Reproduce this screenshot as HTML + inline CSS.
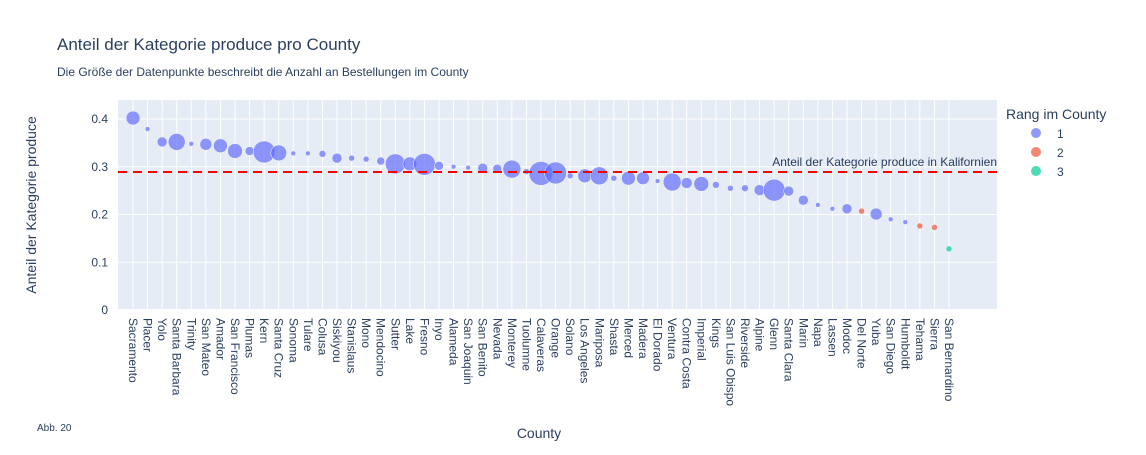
<!DOCTYPE html>
<html><head><meta charset="utf-8"><style>
body{margin:0;background:#fff;font-family:"Liberation Sans",Arial,sans-serif;}
svg text{font-family:"Liberation Sans",Arial,sans-serif;}
</style></head><body>
<svg id="c" width="1146" height="450">
<rect x="0" y="0" width="1146" height="450" fill="#fff"/>
<text x="57" y="50" font-size="17" fill="#2a3f5f">Anteil der Kategorie produce pro County</text>
<text x="57" y="76" font-size="12" fill="#2a3f5f">Die Größe der Datenpunkte beschreibt die Anzahl an Bestellungen im County</text>
<rect x="118" y="100" width="879" height="210" fill="#e5ecf6"/>
<g id="grid"></g>
<g id="marks"></g>
<g id="xt"></g>
<g id="yt"></g>
<text transform="translate(36,205) rotate(-90)" text-anchor="middle" font-size="14" fill="#2a3f5f">Anteil der Kategorie produce</text>
<text x="539" y="438" text-anchor="middle" font-size="14" fill="#2a3f5f">County</text>
<text x="37" y="431" font-size="10" fill="#2a3f5f">Abb. 20</text>
<g>
<text x="1006" y="119" font-size="14" fill="#2a3f5f">Rang im County</text>
<g><circle cx="1036" cy="133" r="5" fill="#636efa" fill-opacity="0.7"/><text x="1057" y="138" font-size="12" fill="#2a3f5f">1</text></g>
<g><circle cx="1036" cy="152" r="5" fill="#EF553B" fill-opacity="0.7"/><text x="1057" y="157" font-size="12" fill="#2a3f5f">2</text></g>
<g><circle cx="1036" cy="171" r="5" fill="#00cc96" fill-opacity="0.7"/><text x="1057" y="176" font-size="12" fill="#2a3f5f">3</text></g>
</g>
</svg>
<script>
const counties=["Sacramento","Placer","Yolo","Santa Barbara","Trinity","San Mateo","Amador","San Francisco","Plumas","Kern","Santa Cruz","Sonoma","Tulare","Colusa","Siskiyou","Stanislaus","Mono","Mendocino","Sutter","Lake","Fresno","Inyo","Alameda","San Joaquin","San Benito","Nevada","Monterey","Tuolumne","Calaveras","Orange","Solano","Los Angeles","Mariposa","Shasta","Merced","Madera","El Dorado","Ventura","Contra Costa","Imperial","Kings","San Luis Obispo","Riverside","Alpine","Glenn","Santa Clara","Marin","Napa","Lassen","Modoc","Del Norte","Yuba","San Diego","Humboldt","Tehama","Sierra","San Bernardino"];
const shares=[0.402,0.379,0.352,0.352,0.348,0.347,0.344,0.333,0.333,0.331,0.329,0.328,0.328,0.327,0.318,0.318,0.316,0.312,0.306,0.306,0.305,0.302,0.300,0.298,0.297,0.296,0.295,0.290,0.286,0.287,0.281,0.281,0.281,0.276,0.276,0.276,0.270,0.268,0.266,0.264,0.262,0.255,0.255,0.251,0.251,0.249,0.230,0.220,0.212,0.212,0.207,0.201,0.190,0.184,0.176,0.173,0.128];
const orders=[49,6,25,72,6,36,49,56,20,121,64,6,6,12,25,9,9,16,100,49,121,20,6,6,25,20,81,9,144,121,9,49,81,9,49,42,6,81,30,56,12,9,12,30,121,25,25,6,6,25,9,36,6,6,9,9,9];
const ranks=[1,1,1,1,1,1,1,1,1,1,1,1,1,1,1,1,1,1,1,1,1,1,1,1,1,1,1,1,1,1,1,1,1,1,1,1,1,1,1,1,1,1,1,1,1,1,1,1,1,1,2,1,1,1,2,2,3];
const yTicks=[0,0.1,0.2,0.3,0.4];
const caShare=[0.289];
const NS="http://www.w3.org/2000/svg";
const X0=133,DX=(949-133)/56;
const xS=i=>X0+i*DX;
const yS=v=>310-v*477.5;
const maxO=Math.max(...orders);
const rS=o=>Math.sqrt(o/maxO)*12;
const colors={1:"#636efa",2:"#EF553B",3:"#00cc96"};
function mk(tag,attrs,parent){const e=document.createElementNS(NS,tag);for(const k in attrs)e.setAttribute(k,attrs[k]);parent.appendChild(e);return e;}
const grid=document.getElementById('grid'),marks=document.getElementById('marks'),xt=document.getElementById('xt'),yt=document.getElementById('yt');
yTicks.forEach(t=>{
 const l=mk('line',{x1:118,x2:997,y1:yS(t),y2:yS(t),stroke:'#fff','stroke-width':t===0?2:1},grid);
 
 
 const tx=mk('text',{x:108,y:yS(t)+4,'text-anchor':'end','font-size':12,fill:'#2a3f5f'},yt);
 tx.textContent=String(t);
 
 
});
counties.forEach((c,i)=>{
 const l=mk('line',{x1:xS(i),x2:xS(i),y1:100,y2:310,stroke:'#fff','stroke-width':1},grid);
 
 
 const tx=mk('text',{transform:`translate(${xS(i)-4},318) rotate(90)`,'font-size':12,fill:'#2a3f5f'},xt);
 tx.textContent=c;
 
 
});
counties.forEach((c,i)=>{
 const p=mk('circle',{cx:xS(i),cy:yS(shares[i]),r:rS(orders[i]),fill:colors[ranks[i]],'fill-opacity':0.7,stroke:'#fff','stroke-width':0.5},marks);
 
 
});
const dl=mk('line',{x1:118,x2:997,y1:yS(caShare[0]),y2:yS(caShare[0]),stroke:'#ff0000','stroke-width':2,'stroke-dasharray':'9,6'},marks);


const at=mk('text',{x:997,y:yS(caShare[0])-6,'text-anchor':'end','font-size':12,fill:'#2a3f5f'},marks);
at.textContent='Anteil der Kategorie produce in Kalifornien';


</script>
</body></html>
